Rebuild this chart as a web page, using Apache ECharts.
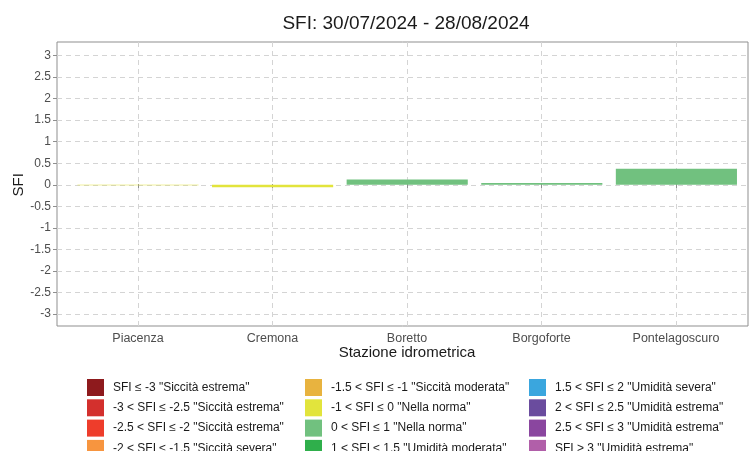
<!DOCTYPE html>
<html><head><meta charset="utf-8">
<script src="https://cdn.jsdelivr.net/npm/echarts@6/dist/echarts.min.js"></script>
<style>html,body{margin:0;padding:0;background:#fff}#c{width:749px;height:451px}</style>
</head><body><div id="c"></div>
<script>
const stations = ['Piacenza', 'Cremona', 'Boretto', 'Borgoforte', 'Pontelagoscuro'];
const sfiValues = [-0.01, -0.06, 0.12, 0.04, 0.37];
const yMin = -3, yMax = 3, yStep = 0.5;
const classNames = [
  'SFI ≤ -3 "Siccità estrema"',
  '-3 < SFI ≤ -2.5 "Siccità estrema"',
  '-2.5 < SFI ≤ -2 "Siccità estrema"',
  '-2 < SFI ≤ -1.5 "Siccità severa"',
  '-1.5 < SFI ≤ -1 "Siccità moderata"',
  '-1 < SFI ≤ 0 "Nella norma"',
  '0 < SFI ≤ 1 "Nella norma"',
  '1 < SFI ≤ 1.5 "Umidità moderata"',
  '1.5 < SFI ≤ 2 "Umidità severa"',
  '2 < SFI ≤ 2.5 "Umidità estrema"',
  '2.5 < SFI ≤ 3 "Umidità estrema"',
  'SFI > 3 "Umidità estrema"'
];
const classUpper = [-3, -2.5, -2, -1.5, -1, 0, 1, 1.5, 2, 2.5, 3, Infinity];
const classColors = ['#8e1a1d', '#d3302d', '#ee3d2b', '#f7953f', '#e8b33f', '#e2e43c',
  '#71c17f', '#2faf4b', '#3aa6de', '#6a4c9e', '#8a469f', '#b15fa9'];

const classOf = v => classUpper.findIndex(u => v <= u);
const font = 'Liberation Sans, Arial, sans-serif';
const grey = '#4d4d4d';
const gridLine = {show: true, lineStyle: {color: '#d4d4d4', type: [5, 4], width: 1}};

const series = classNames.map((name, i) => ({
  name, type: 'bar', xAxisIndex: 2, yAxisIndex: 2, stack: 'sfi', barWidth: '90%',
  itemStyle: {color: classColors[i]},
  data: sfiValues.map(v => classOf(v) === i ? v : null)
}));

const legends = [0, 1, 2].map(c => ({
  orient: 'vertical', left: [87, 305, 529][c], top: 379, height: 120, padding: 0,
  icon: 'rect', itemWidth: 17, itemHeight: 17, itemGap: 3.3,
  selectedMode: false,
  textStyle: {fontFamily: font, fontSize: 12, color: '#1a1a1a', padding: [0, 0, 0, 4]},
  data: classNames.slice(c * 4, c * 4 + 4)
}));

const hiddenY = gi => ({gridIndex: gi, type: 'value', min: yMin, max: yMax, interval: yStep, show: false, splitLine: {show: false}});

const chart = echarts.init(document.getElementById('c'), null, {renderer: 'canvas'});
chart.setOption({
  animation: false,
  backgroundColor: '#fff',
  title: {text: 'SFI: 30/07/2024 - 28/08/2024', left: 401, top: 9, textAlign: 'center',
    textStyle: {fontFamily: font, fontSize: 19, fontWeight: 'normal', color: '#1a1a1a'}},
  legend: legends,
  grid: [
    {left: 57, right: 1, top: 42, bottom: 125, show: true, borderColor: '#8f8f8f', borderWidth: 1, backgroundColor: 'transparent'},
    {left: 57, right: 1, top: 55.5, bottom: 137},
    {left: 70.7, right: 5.3, top: 55.5, bottom: 137},
    {left: 138, right: 73, top: 42, bottom: 125}
  ],
  xAxis: [
    {gridIndex: 0, type: 'category', data: [''], show: false},
    {gridIndex: 1, type: 'category', data: [''], show: false},
    {gridIndex: 2, type: 'category', data: stations, show: false},
    {gridIndex: 3, type: 'category', data: stations, boundaryGap: false,
      name: 'Stazione idrometrica', nameLocation: 'middle', nameGap: 19, nameMoveOverlap: false,
      nameTextStyle: {fontFamily: font, fontSize: 15, color: '#1a1a1a'},
      axisLine: {show: false},
      axisTick: {show: true, length: 4, lineStyle: {color: '#8f8f8f'}},
      axisLabel: {fontFamily: font, fontSize: 12.5, color: grey, margin: 6, interval: 0},
      splitLine: gridLine}
  ],
  yAxis: [
    hiddenY(0),
    {gridIndex: 1, type: 'value', min: yMin, max: yMax, interval: yStep,
      name: 'SFI', nameLocation: 'middle', nameGap: 31, nameRotate: 90, nameMoveOverlap: false,
      nameTextStyle: {fontFamily: font, fontSize: 15, color: '#1a1a1a'},
      axisLine: {show: false},
      axisTick: {show: true, length: 4, lineStyle: {color: '#8f8f8f'}},
      axisLabel: {fontFamily: font, fontSize: 12, color: grey, margin: 6},
      splitLine: gridLine},
    hiddenY(2),
    hiddenY(3)
  ],
  series
});
</script></body></html>
